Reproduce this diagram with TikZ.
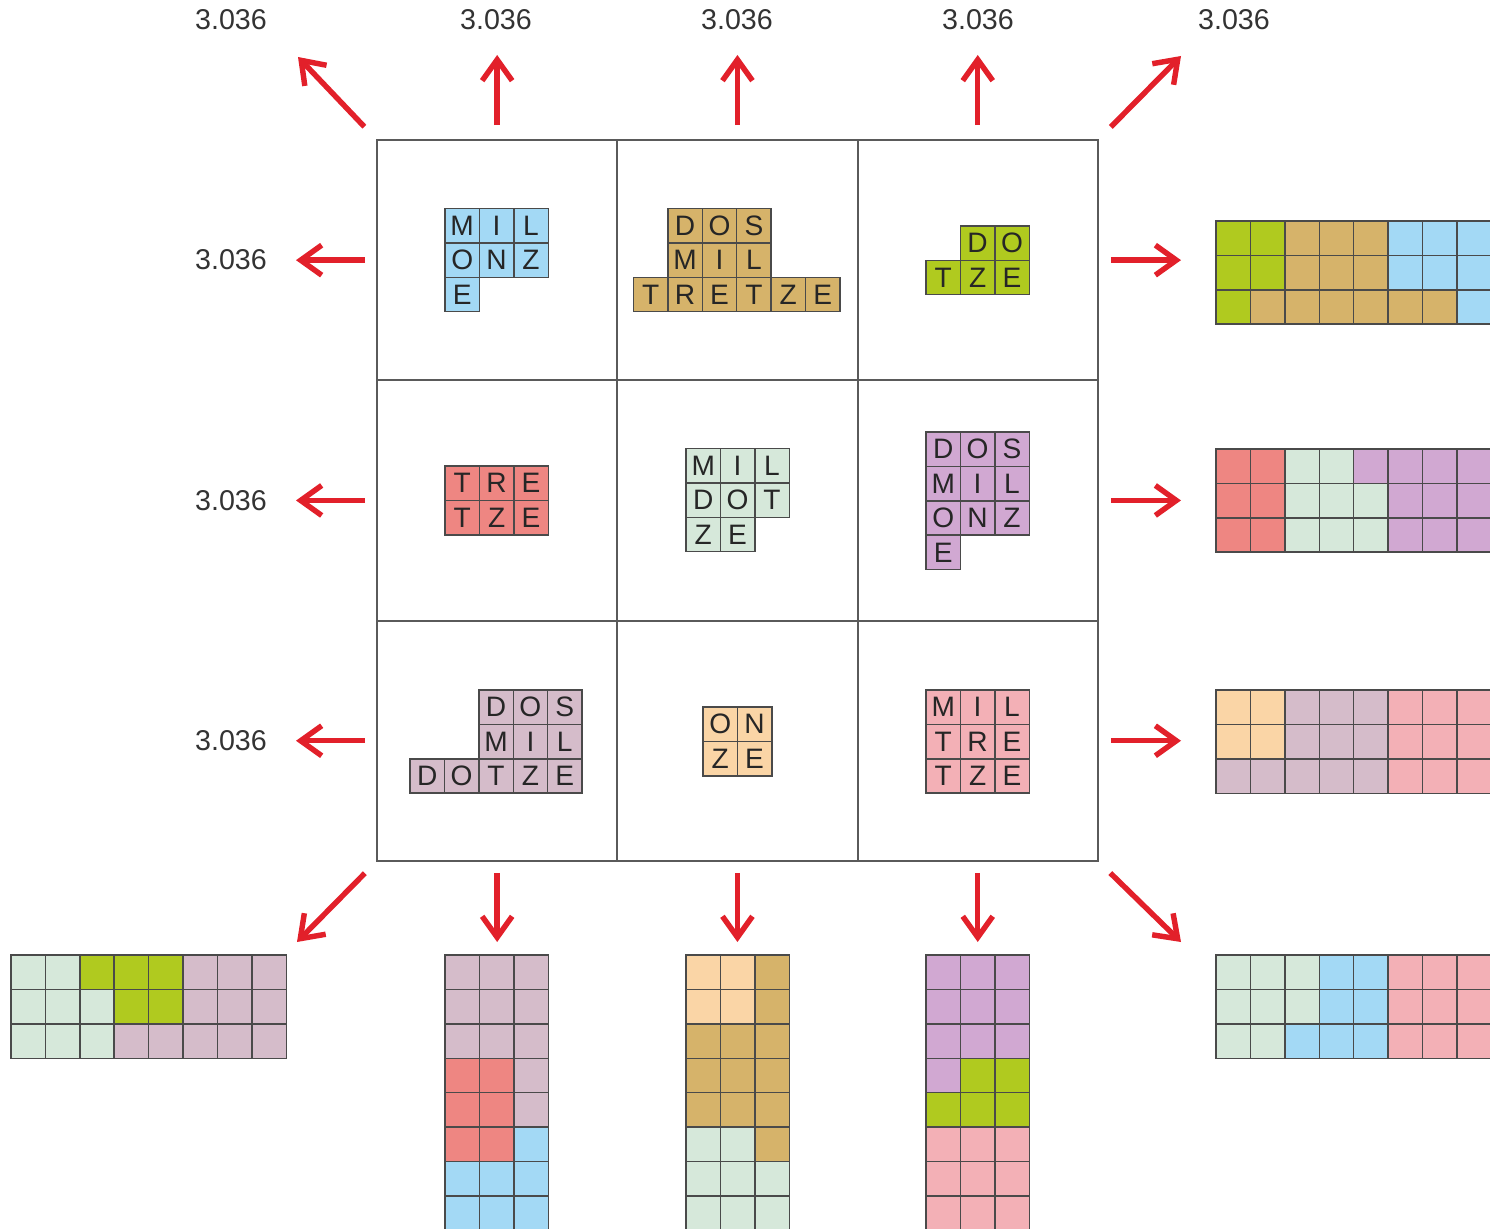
\documentclass[tikz,border=0pt]{standalone}
\usepackage{fontspec}
\setmainfont{Liberation Sans}
\usepackage{tikz}
\usetikzlibrary{arrows.meta}

\definecolor{pc-b}{HTML}{A3D9F5}
\definecolor{pc-t}{HTML}{D6B36A}
\definecolor{pc-g}{HTML}{B0CA1F}
\definecolor{pc-r}{HTML}{EE8682}
\definecolor{pc-l}{HTML}{D6E8DA}
\definecolor{pc-p}{HTML}{D1A8D2}
\definecolor{pc-m}{HTML}{D5BCCA}
\definecolor{pc-o}{HTML}{FAD5A6}
\definecolor{pc-k}{HTML}{F3B0B6}
\definecolor{arrred}{HTML}{E2202A}
\definecolor{edgegray}{HTML}{4A4A4A}
\definecolor{gridgray}{HTML}{5A5A5A}

\newcommand{\sq}{34.4}
% lettered piece: name, x, y, colour, list col/row/letter
\newcommand{\piece}[5]{%
  \foreach \ci/\ri/\ltr in {#5}
    \node[tile, fill=pc-#4] (#1-\ci-\ri) at ({#2+(\ci+0.5)*\sq},{#3+(\ri+0.5)*\sq}) {\ltr};}
% filled mosaic: x, y, rows of colour letters
\newcommand{\mosaic}[3]{%
  \foreach \row [count=\ri from 0] in {#3}
    \foreach \col [count=\ci from 0] in \row
      \filldraw[cell, fill=pc-\col] ({#1+\ci*\sq},{#2+\ri*\sq}) rectangle ++(\sq,\sq);}

\begin{document}
\begin{tikzpicture}[
      x=0.02cm, y=-0.02cm,
      tile/.style={draw=edgegray, line width=0.8pt, minimum size=0.688cm, inner sep=0pt,
        font=\fontsize{16}{19}\selectfont, text=black!85},
      cell/.style={draw=edgegray, line width=0.8pt},
      field/.style={draw=gridgray, line width=1.1pt, minimum size=4.806cm, inner sep=0pt},
      val/.style={font=\fontsize{16.3}{19}\selectfont, text=black!80},
      arr/.style={-{Straight Barb[length=0.42cm, width=0.6cm]}, line width=3.1pt, draw=arrred},
    ]
    \clip (0,0) rectangle (1490,1229);

    % the 3x3 field
    \foreach \ri in {0,1,2}
      \foreach \ci in {0,1,2}
        \node[field] (f-\ri-\ci) at ({377+(\ci+0.5)*240.3},{140+(\ri+0.5)*240.3}) {};

    % pieces
    \piece{blue}{445}{208.5}{b}{0/0/M,1/0/I,2/0/L,0/1/O,1/1/N,2/1/Z,0/2/E}
    \piece{tan}{633.5}{208.5}{t}{1/0/D,2/0/O,3/0/S,1/1/M,2/1/I,3/1/L,0/2/T,1/2/R,2/2/E,3/2/T,4/2/Z,5/2/E}
    \piece{green}{926}{226}{g}{1/0/D,2/0/O,0/1/T,1/1/Z,2/1/E}
    \piece{red}{445}{466}{r}{0/0/T,1/0/R,2/0/E,0/1/T,1/1/Z,2/1/E}
    \piece{mint}{686}{448.5}{l}{0/0/M,1/0/I,2/0/L,0/1/D,1/1/O,2/1/T,0/2/Z,1/2/E}
    \piece{lilac}{926}{432}{p}{0/0/D,1/0/O,2/0/S,0/1/M,1/1/I,2/1/L,0/2/O,1/2/N,2/2/Z,0/3/E}
    \piece{mauve}{410}{690}{m}{2/0/D,3/0/O,4/0/S,2/1/M,3/1/I,4/1/L,0/2/D,1/2/O,2/2/T,3/2/Z,4/2/E}
    \piece{peach}{703}{707}{o}{0/0/O,1/0/N,0/1/Z,1/1/E}
    \piece{pink}{926}{690}{k}{0/0/M,1/0/I,2/0/L,0/1/T,1/1/R,2/1/E,0/2/T,1/2/Z,2/2/E}

    % values
    \node[val] (v-nw) at (231,20) {3.036};
    \node[val] (v-t0) at (496,20) {3.036};
    \node[val] (v-t1) at (737,20) {3.036};
    \node[val] (v-t2) at (978,20) {3.036};
    \node[val] (v-ne) at (1234,20) {3.036};
    \node[val] (v-l0) at (231,260) {3.036};
    \node[val] (v-l1) at (231,501) {3.036};
    \node[val] (v-l2) at (231,741) {3.036};

    % arrow tips
    \coordinate (tip-nw) at (298,57);
    \coordinate (tip-ne) at (1181,56);
    \coordinate (tip-sw) at (297,942);
    \coordinate (tip-se) at (1181,942);
    \foreach \k in {0,1,2} {
      \coordinate (tip-t\k) at ({377+(\k+0.5)*240.3},55);
      \coordinate (tip-b\k) at ({377+(\k+0.5)*240.3},942);
      \coordinate (tip-l\k) at (296,{140+(\k+0.5)*240.3});
      \coordinate (tip-r\k) at (1181,{140+(\k+0.5)*240.3});
    }

    \draw[arr, shorten <=0.34cm] (f-0-0.north west) -- (tip-nw);
    \draw[arr, shorten <=0.34cm] (f-0-2.north east) -- (tip-ne);
    \draw[arr, shorten <=0.32cm] (f-2-0.south west) -- (tip-sw);
    \draw[arr, shorten <=0.32cm] (f-2-2.south east) -- (tip-se);
    \foreach \k in {0,1,2} {
      \draw[arr, shorten <=0.28cm] (f-0-\k.north) -- (tip-t\k);
      \draw[arr, shorten <=0.22cm] (f-2-\k.south) -- (tip-b\k);
      \draw[arr, shorten <=0.22cm] (f-\k-0.west) -- (tip-l\k);
      \draw[arr, shorten <=0.24cm] (f-\k-2.east) -- (tip-r\k);
    }

    % mosaics
    \mosaic{1216}{221}{{g,g,t,t,t,b,b,b},{g,g,t,t,t,b,b,b},{g,t,t,t,t,t,t,b}}
    \mosaic{1216}{449}{{r,r,l,l,p,p,p,p},{r,r,l,l,l,p,p,p},{r,r,l,l,l,p,p,p}}
    \mosaic{1216}{690}{{o,o,m,m,m,k,k,k},{o,o,m,m,m,k,k,k},{m,m,m,m,m,k,k,k}}
    \mosaic{11}{955}{{l,l,g,g,g,m,m,m},{l,l,l,g,g,m,m,m},{l,l,l,m,m,m,m,m}}
    \mosaic{445}{955}{{m,m,m},{m,m,m},{m,m,m},{r,r,m},{r,r,m},{r,r,b},{b,b,b},{b,b,b}}
    \mosaic{686}{955}{{o,o,t},{o,o,t},{t,t,t},{t,t,t},{t,t,t},{l,l,t},{l,l,l},{l,l,l}}
    \mosaic{926}{955}{{p,p,p},{p,p,p},{p,p,p},{p,g,g},{g,g,g},{k,k,k},{k,k,k},{k,k,k}}
    \mosaic{1216}{955}{{l,l,l,b,b,k,k,k},{l,l,l,b,b,k,k,k},{l,l,b,b,b,k,k,k}}
  \end{tikzpicture}
\end{document}
